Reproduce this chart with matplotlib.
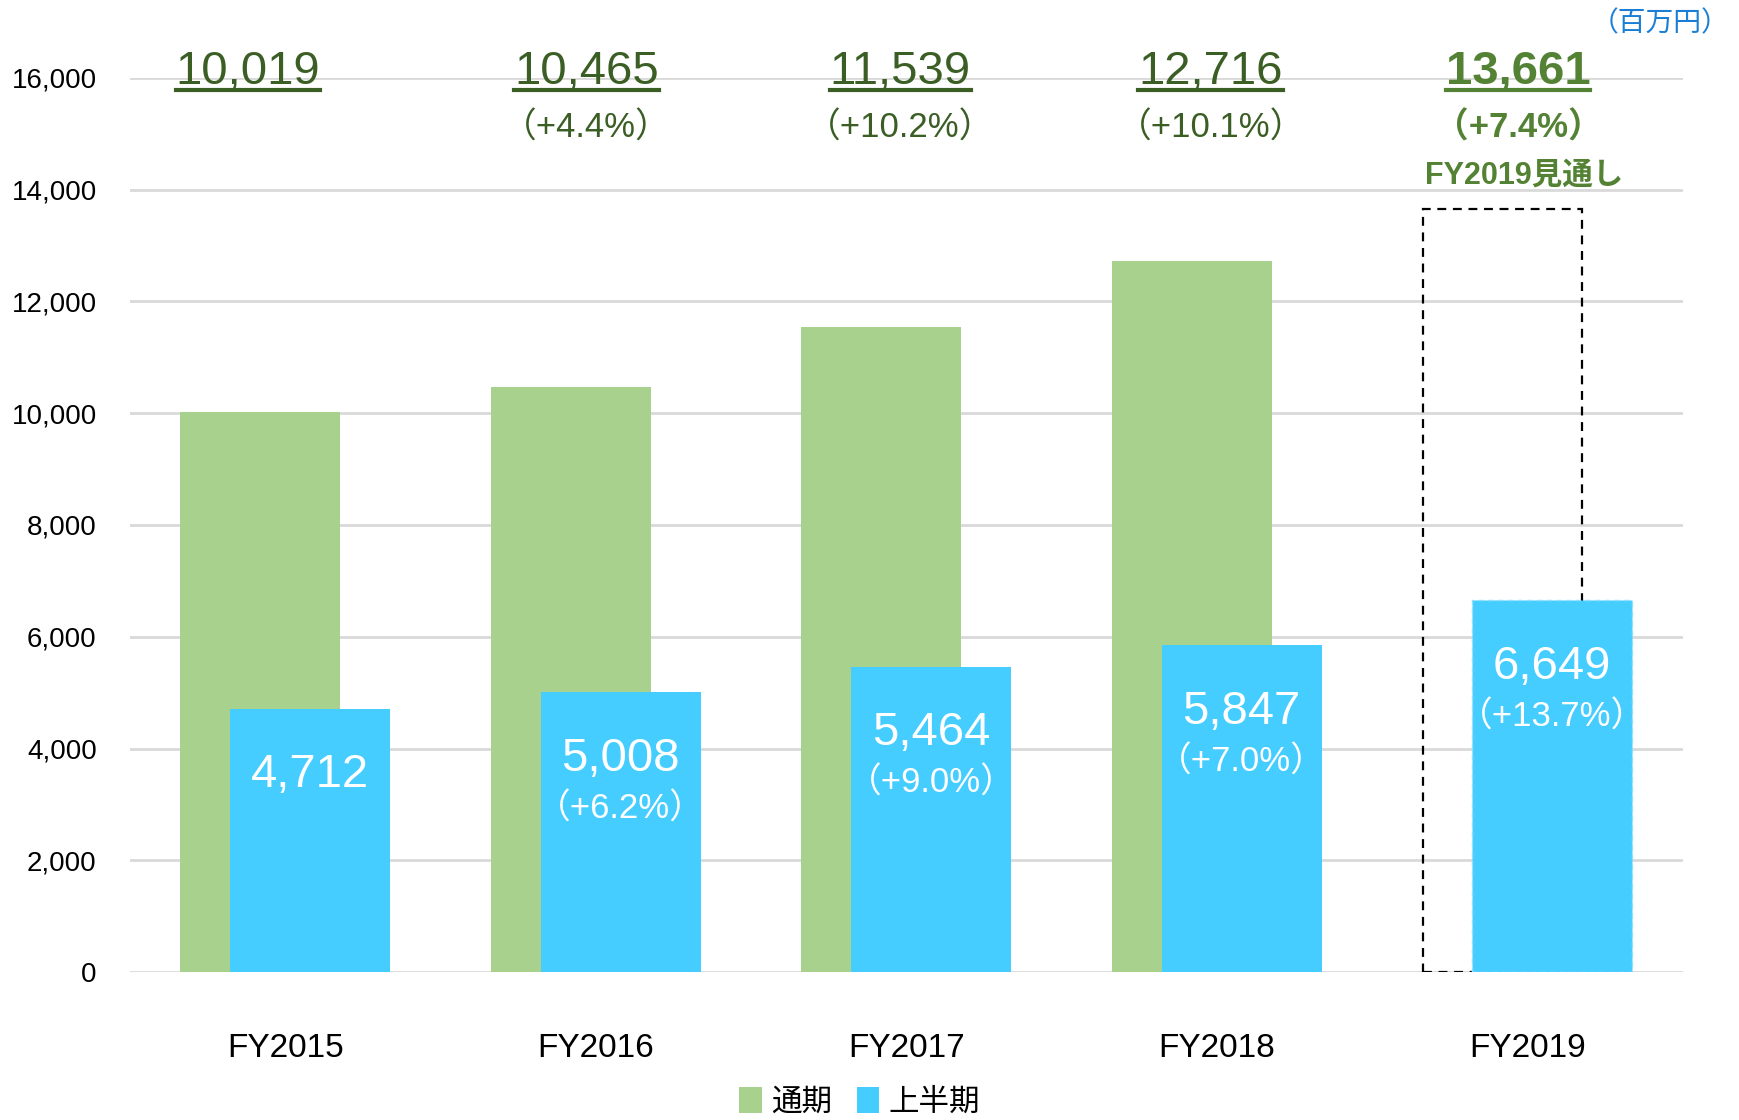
import matplotlib
matplotlib.use("Agg")
import matplotlib.pyplot as plt
from matplotlib.lines import Line2D
from matplotlib.patches import Patch
import numpy as np

# データ（百万円）
years = ["FY2015", "FY2016", "FY2017", "FY2018", "FY2019"]
full_year = [10019, 10465, 11539, 12716, 13661]
full_year_growth = ["", "（+4.4%）", "（+10.2%）", "（+10.1%）", "（+7.4%）"]
first_half = [4712, 5008, 5464, 5847, 6649]
first_half_growth = ["", "（+6.2%）", "（+9.0%）", "（+7.0%）", "（+13.7%）"]

green = "#A9D18E"
blue = "#45CDFF"
dark_green = "#3B5E25"
bold_green = "#548235"

num_font = ["Liberation Sans", "Noto Sans CJK JP", "DejaVu Sans"]
tick_font = ["DejaVu Sans Condensed", "Liberation Sans", "DejaVu Sans"]
jp_font = ["Noto Sans CJK JP", "DejaVu Sans"]

fig = plt.figure(figsize=(17.4, 11.2), dpi=100)
ax = fig.add_axes([0.0747, 0.1321, 0.967 - 0.0747, 0.9304 - 0.1321])

x = np.arange(len(years))
w = 0.515
off = 0.08

# 通期（FY2019は見通しなので点線枠）
for i, v in enumerate(full_year):
    if i == len(years) - 1:
        ax.bar(x[i] - off, v, w, facecolor="none", edgecolor="black",
               linestyle=(0, (4, 3)), linewidth=1.6, zorder=3)
    else:
        ax.bar(x[i] - off, v, w, color=green, zorder=3)

# 上半期
bars = ax.bar(x + off, first_half, w, color=blue, zorder=4)
bars[-1].set_edgecolor("#8FE0FF")
bars[-1].set_linestyle((0, (4, 3)))
bars[-1].set_linewidth(1.0)

for i, v in enumerate(first_half):
    ax.annotate(f"{v:,}", (x[i] + off, v), xytext=(0, -48), textcoords="offset points",
                ha="center", va="center", color="white", fontsize=34, family=num_font, zorder=5)
    if first_half_growth[i]:
        ax.annotate(first_half_growth[i], (x[i] + off, v), xytext=(0, -84), textcoords="offset points",
                    ha="center", va="center", color="white", fontsize=25, family=num_font, zorder=5)

# 上部の通期ラベル
label_dx = [-0.12, -0.03, -0.02, -0.02, -0.03]
top_texts = []
for i, v in enumerate(full_year):
    last = i == len(years) - 1
    col = bold_green if last else dark_green
    wt = "bold" if last else "normal"
    t = ax.text(x[i] + label_dx[i], 16110, f"{v:,}", ha="center", va="center", fontsize=34,
                color=col, fontweight=wt, family=num_font, clip_on=False)
    top_texts.append((t, col))
    if full_year_growth[i]:
        ax.text(x[i] + label_dx[i], 15110, full_year_growth[i], ha="center", va="center",
                fontsize=25, color=col, fontweight=wt, family=num_font, clip_on=False)

ax.text(x[-1] - 0.01, 14260, "FY2019見通し", ha="center", va="center", fontsize=22,
        color=bold_green, fontweight="bold", family=num_font, clip_on=False)

fig.text(0.994, 0.979, "（百万円）", ha="right", va="center", fontsize=20,
         color="#1A7FD4", family=jp_font)

ax.set_xlim(-0.5, 4.5)
ax.set_ylim(0, 16000)
ax.set_yticks(np.arange(0, 16001, 2000))
ax.set_yticklabels([f"{v:,}" for v in range(0, 16001, 2000)], family=tick_font, fontsize=20)
ax.set_xticks(x)
ax.set_xticklabels(years, family=tick_font, fontsize=24)
ax.tick_params(axis="both", length=0)
ax.tick_params(axis="x", pad=44)
ax.tick_params(axis="y", pad=24)
ax.grid(axis="y", color="#D9D9D9", linewidth=2, zorder=0)
ax.set_axisbelow(True)
for s in ax.spines.values():
    s.set_visible(False)

handles = [Patch(facecolor=green, label="通期"), Patch(facecolor=blue, label="上半期")]
fig.legend(handles=handles, loc="center", bbox_to_anchor=(0.494, 0.016), ncol=2, frameon=False,
           prop={"family": jp_font, "size": 22, "weight": "normal"},
           handlelength=0.75, handleheight=0.9, handletextpad=0.3, columnspacing=0.8)

# 下線
fig.canvas.draw()
r = fig.canvas.get_renderer()
for t, col in top_texts:
    bb = t.get_window_extent(r)
    yy = (bb.y0 + 4) / fig.bbox.height
    fig.add_artist(Line2D([bb.x0 / fig.bbox.width, bb.x1 / fig.bbox.width], [yy, yy],
                          color=col, linewidth=3))

fig.savefig("out.png", dpi=100)
